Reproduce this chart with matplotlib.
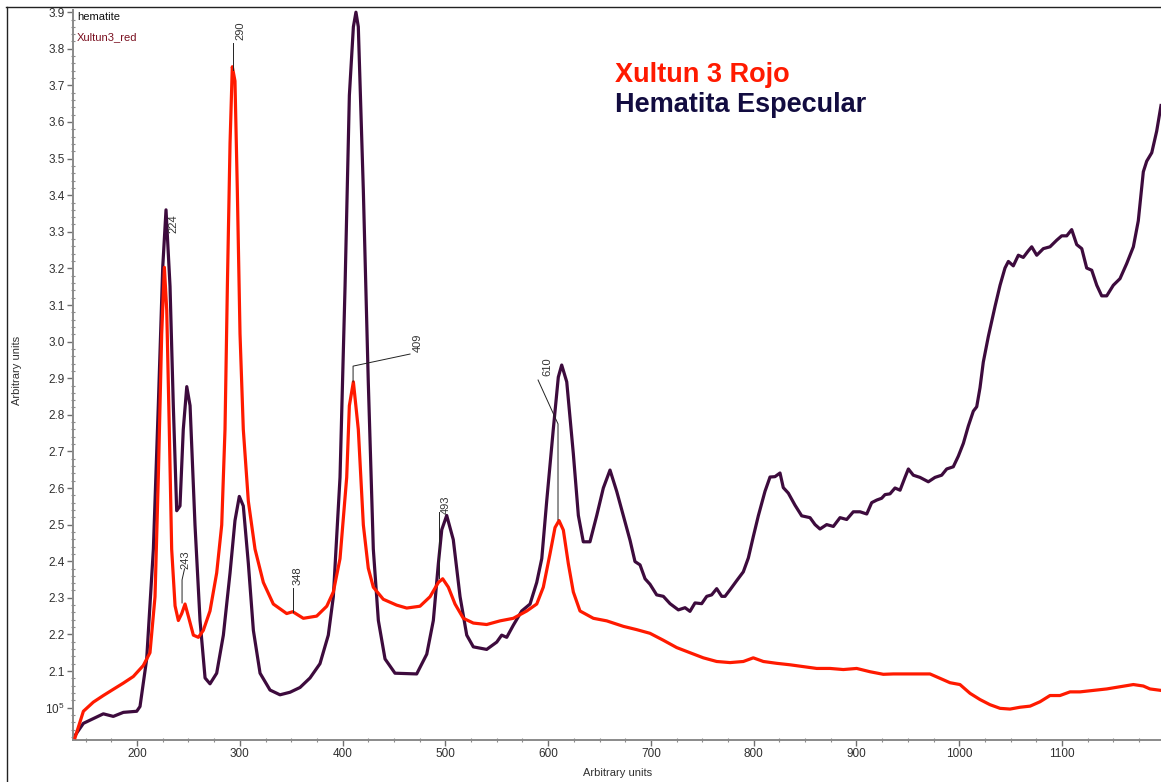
import numpy as np
import matplotlib
matplotlib.use('Agg')
import matplotlib.pyplot as plt
from matplotlib.ticker import FixedLocator, MultipleLocator, FixedFormatter
from matplotlib.lines import Line2D

plt.rcParams['font.family'] = ['Liberation Sans', 'DejaVu Sans']
plt.rcParams['mathtext.fontset'] = 'custom'
plt.rcParams['mathtext.rm'] = 'Liberation Sans'

# hematite (especular) spectrum
hem_x = [139.7, 147.8, 157.5, 167.2, 176.9, 186.7, 199.7, 202.9, 209.4, 215.9,
         220.7, 225.0, 228.2, 232.1, 235.3, 238.6, 241.8, 245.0, 248.4, 251.6,
         256.4, 261.3, 266.2, 271.0, 277.5, 284.0, 290.5, 295.3, 299.5, 303.4,
         308.3, 313.2, 319.7, 329.4, 339.1, 348.9, 358.6, 368.3, 378.0, 386.1,
         391.0, 397.5, 402.4, 406.6, 410.5, 413.0, 415.3, 420.2, 425.0, 429.9,
         434.8, 441.3, 451.0, 472.1, 481.9, 488.3, 493.2, 496.5, 501.3, 507.7,
         514.3, 520.8, 527.2, 540.2, 550.0, 554.8, 559.7, 566.1, 574.3, 582.4,
         588.9, 593.8, 598.6, 605.0, 609.9, 613.2, 618.1, 624.5, 629.4, 634.2,
         640.7, 647.3, 653.7, 660.2, 666.7, 673.2, 679.7, 684.5, 689.4, 694.3,
         699.1, 705.6, 712.1, 718.6, 726.7, 733.2, 738.0, 742.9, 749.4, 754.3,
         759.1, 764.0, 768.9, 772.1, 777.0, 783.5, 789.9, 794.8, 799.6, 804.5,
         811.0, 815.9, 820.7, 825.6, 828.8, 833.7, 840.2, 846.7, 854.8, 859.7,
         864.5, 871.0, 877.5, 884.0, 890.5, 896.9, 903.5, 910.0, 914.8, 919.7,
         924.5, 927.8, 932.6, 937.5, 942.4, 947.2, 950.5, 955.3, 961.8, 969.9,
         976.4, 982.9, 987.8, 994.2, 999.1, 1004.0, 1008.8, 1013.7, 1017.0, 1020.2,
         1023.4, 1028.3, 1034.8, 1039.7, 1044.5, 1047.8, 1052.6, 1057.5, 1062.3, 1067.2,
         1070.5, 1075.4, 1081.8, 1088.3, 1094.8, 1099.7, 1104.6, 1109.4, 1114.3, 1119.2,
         1124.0, 1128.9, 1133.8, 1138.6, 1143.5, 1149.9, 1156.4, 1162.9, 1169.4, 1174.2,
         1179.1, 1182.4, 1187.3, 1192.1, 1196.3]
hem_y = [1.924, 1.957, 1.970, 1.983, 1.976, 1.987, 1.990, 2.003, 2.133, 2.433,
         2.825, 3.203, 3.360, 3.151, 2.825, 2.538, 2.551, 2.760, 2.877, 2.825,
         2.499, 2.238, 2.081, 2.065, 2.094, 2.198, 2.368, 2.511, 2.577, 2.551,
         2.394, 2.211, 2.094, 2.048, 2.035, 2.042, 2.055, 2.081, 2.120, 2.198,
         2.303, 2.629, 3.151, 3.673, 3.860, 3.900, 3.860, 3.412, 2.890, 2.433,
         2.238, 2.133, 2.094, 2.092, 2.146, 2.238, 2.394, 2.486, 2.525, 2.459,
         2.303, 2.198, 2.166, 2.159, 2.179, 2.198, 2.192, 2.225, 2.264, 2.283,
         2.342, 2.407, 2.564, 2.760, 2.903, 2.936, 2.890, 2.694, 2.525, 2.453,
         2.453, 2.525, 2.600, 2.649, 2.591, 2.524, 2.457, 2.399, 2.390, 2.352,
         2.337, 2.308, 2.304, 2.284, 2.267, 2.273, 2.263, 2.286, 2.284, 2.304,
         2.308, 2.325, 2.304, 2.304, 2.322, 2.347, 2.371, 2.409, 2.467, 2.524,
         2.591, 2.630, 2.631, 2.641, 2.601, 2.586, 2.553, 2.524, 2.519, 2.500,
         2.488, 2.500, 2.495, 2.519, 2.514, 2.535, 2.535, 2.529, 2.560, 2.567,
         2.572, 2.582, 2.584, 2.600, 2.594, 2.629, 2.652, 2.635, 2.629, 2.617,
         2.629, 2.635, 2.652, 2.658, 2.687, 2.722, 2.769, 2.810, 2.822, 2.874,
         2.944, 3.014, 3.096, 3.154, 3.201, 3.219, 3.207, 3.236, 3.230, 3.248,
         3.259, 3.236, 3.254, 3.259, 3.277, 3.289, 3.289, 3.306, 3.265, 3.254,
         3.201, 3.195, 3.154, 3.125, 3.125, 3.154, 3.172, 3.213, 3.259, 3.330,
         3.464, 3.493, 3.516, 3.575, 3.645]

# Xultun 3 red pigment spectrum
xul_x = [139.7, 147.8, 157.5, 167.2, 176.9, 186.7, 196.4, 206.1, 212.6, 217.5,
         220.7, 224.0, 226.6, 228.9, 231.4, 233.7, 237.0, 240.2, 243.5, 246.7,
         249.9, 254.8, 259.7, 264.5, 271.0, 277.5, 282.4, 285.6, 287.9, 290.5,
         292.7, 295.3, 297.6, 300.2, 303.4, 308.3, 314.8, 322.9, 332.6, 345.6,
         351.5, 361.8, 374.8, 384.6, 391.0, 397.5, 404.0, 406.6, 410.5, 415.3,
         420.2, 425.0, 429.9, 439.6, 452.6, 462.4, 475.3, 485.1, 493.2, 497.4,
         502.9, 509.4, 517.5, 527.2, 540.2, 553.2, 566.1, 579.2, 588.9, 595.3,
         601.8, 606.7, 610.6, 614.8, 619.6, 624.5, 631.0, 644.0, 657.0, 673.2,
         686.2, 699.1, 712.1, 725.1, 738.0, 751.0, 764.0, 777.0, 789.9, 799.6,
         809.4, 822.4, 835.3, 848.3, 861.3, 874.3, 887.2, 900.2, 913.2, 926.1,
         935.9, 948.9, 961.8, 971.5, 981.3, 991.0, 1000.7, 1010.5, 1020.2, 1029.9,
         1039.7, 1049.4, 1059.1, 1068.9, 1078.6, 1088.3, 1098.0, 1107.8, 1117.5, 1130.5,
         1143.5, 1156.4, 1169.4, 1179.1, 1185.6, 1196.3]
xul_y = [1.918, 1.990, 2.015, 2.033, 2.050, 2.067, 2.085, 2.115, 2.150, 2.303,
         2.629, 3.021, 3.203, 3.086, 2.760, 2.433, 2.278, 2.238, 2.257, 2.283,
         2.250, 2.198, 2.192, 2.211, 2.264, 2.368, 2.499, 2.760, 3.151, 3.542,
         3.751, 3.712, 3.412, 3.021, 2.760, 2.564, 2.433, 2.342, 2.283, 2.257,
         2.262, 2.244, 2.250, 2.277, 2.316, 2.407, 2.629, 2.825, 2.890, 2.760,
         2.499, 2.381, 2.329, 2.296, 2.280, 2.272, 2.277, 2.303, 2.342, 2.352,
         2.329, 2.283, 2.244, 2.231, 2.227, 2.237, 2.244, 2.264, 2.283, 2.329,
         2.420, 2.492, 2.511, 2.485, 2.394, 2.316, 2.264, 2.244, 2.237, 2.222,
         2.213, 2.203, 2.184, 2.164, 2.150, 2.136, 2.126, 2.123, 2.126, 2.136,
         2.126, 2.121, 2.117, 2.112, 2.107, 2.107, 2.104, 2.107, 2.098, 2.091,
         2.092, 2.092, 2.092, 2.092, 2.080, 2.068, 2.063, 2.039, 2.022, 2.008,
         1.998, 1.996, 2.001, 2.004, 2.016, 2.033, 2.033, 2.043, 2.043, 2.047,
         2.051, 2.057, 2.063, 2.059, 2.051, 2.047]

y_ticks = [2.0, 2.1, 2.2, 2.3, 2.4, 2.5, 2.6, 2.7, 2.8, 2.9,
           3.0, 3.1, 3.2, 3.3, 3.4, 3.5, 3.6, 3.7, 3.8, 3.9]
y_tick_labels = [r'$\mathregular{10^5}$'] + ['%.1f' % v for v in y_ticks[1:]]
x_ticks = [200, 300, 400, 500, 600, 700, 800, 900, 1000, 1100]

# peak labels: (text, text position, leader line points)
peaks = [
    ('224', (235.0, 3.321), None),
    ('290', (300.2, 3.849), [(293.4, 3.816), (293.4, 3.742)]),
    ('243', (246.7, 2.403), [(246.2, 2.379), (243.8, 2.349), (243.8, 2.286)]),
    ('348', (356.6, 2.360), [(351.3, 2.327), (351.3, 2.261)]),
    ('409', (473.4, 2.996), [(465.6, 2.966), (410.2, 2.933), (410.2, 2.890)]),
    ('493', (500.6, 2.554), [(493.8, 2.534), (493.8, 2.354)]),
    ('610', (598.9, 2.931), [(590.2, 2.895), (609.6, 2.775), (609.6, 2.513)]),
]

W, H = 1161, 782
fig = plt.figure(figsize=(W / 100, H / 100), dpi=100)
fig.patch.set_facecolor('white')
ax = fig.add_axes([73 / W, 1 - 740 / H, (1161 - 73) / W, (740 - 10) / H])

ax.plot(hem_x, hem_y, color='#3d0b3d', lw=2.3, solid_joinstyle='round', zorder=2)
ax.plot(xul_x, xul_y, color='#ff1a00', lw=2.3, solid_joinstyle='round', zorder=3)

for lab, (tx, ty), line in peaks:
    ax.text(tx, ty, lab, rotation=90, ha='center', va='center',
            fontsize=8, color='#333333', zorder=4)
    if line:
        lx, ly = zip(*line)
        ax.plot(lx, ly, color='#222222', lw=0.7, zorder=4)

ax.set_xlim(137.7, 1196.3)
ax.set_ylim(1.9115, 3.906)

for s in ['top', 'right']:
    ax.spines[s].set_visible(False)
for s in ['left', 'bottom']:
    ax.spines[s].set_color('#8a8a8a')
    ax.spines[s].set_linewidth(1.4)

ax.yaxis.set_major_locator(FixedLocator(y_ticks))
ax.yaxis.set_major_formatter(FixedFormatter(y_tick_labels))
ax.yaxis.set_minor_locator(MultipleLocator(0.02))
ax.xaxis.set_major_locator(FixedLocator(x_ticks))
ax.xaxis.set_minor_locator(MultipleLocator(25))
ax.tick_params(which='major', direction='out', length=4, width=1, color='#707070',
               labelsize=8.5, labelcolor='#303030', pad=2)
ax.tick_params(which='minor', direction='inout', length=3, width=0.8, color='#8a8a8a')

# series names in the corner
fig.text(77 / W, 1 - 17 / H, 'hematite', fontsize=8, color='#111111', va='center')
fig.text(77 / W, 1 - 37 / H, 'Xultun3_red', fontsize=8, color='#7a1020', va='center')

fig.text(615 / W, 1 - 82 / H, 'Xultun 3 Rojo', fontsize=19.5, fontweight='bold',
         color='#ff1a00', va='baseline')
fig.text(615 / W, 1 - 112 / H, 'Hematita Especular', fontsize=19.5, fontweight='bold',
         color='#120c40', va='baseline')

fig.text(618 / W, 1 - 773 / H, 'Arbitrary units', fontsize=8, color='#303030',
         ha='center', va='center')
fig.text(17 / W, 1 - 370 / H, 'Arbitrary units', fontsize=8, color='#303030',
         ha='center', va='center', rotation=90)

# outer frame
fig.add_artist(Line2D([6.5 / W, 6.5 / W], [1 - 781 / H, 1 - 7 / H],
                      transform=fig.transFigure, color='#222222', lw=1))
fig.add_artist(Line2D([6 / W, 1.0], [1 - 7 / H, 1 - 7 / H],
                      transform=fig.transFigure, color='#222222', lw=1))

fig.savefig('out.png', dpi=100)
